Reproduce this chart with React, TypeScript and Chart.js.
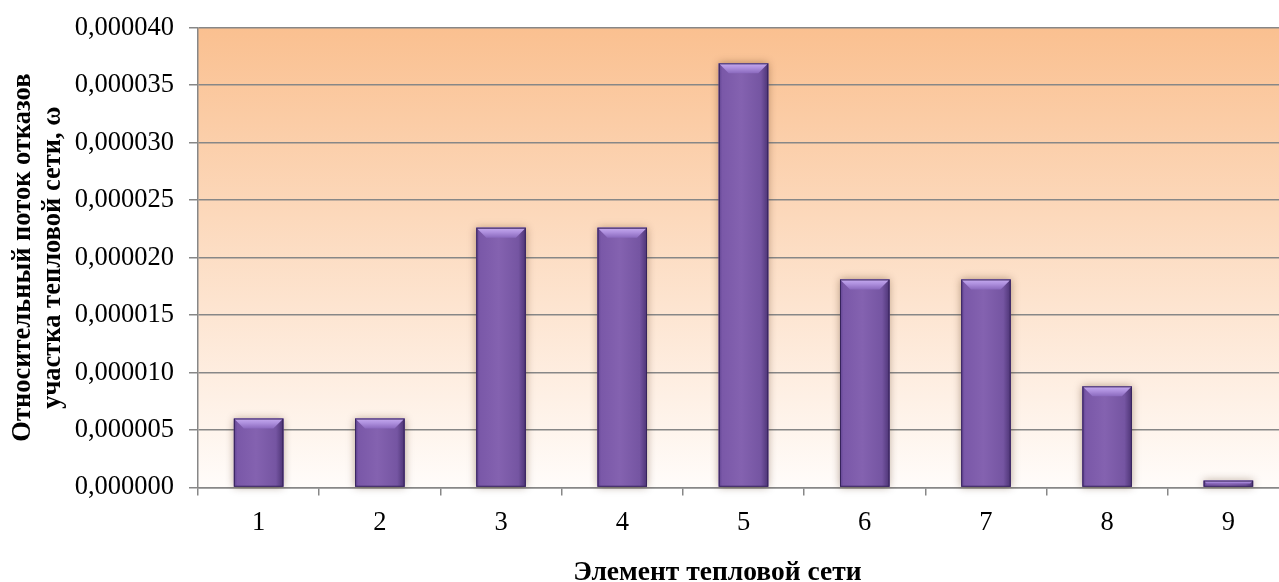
import React, { useEffect, useRef } from 'react';
import { Chart, registerables } from 'chart.js';

Chart.register(...registerables);

// ---- data ----
const categories: string[] = ['1', '2', '3', '4', '5', '6', '7', '8', '9'];
const failureFlow: number[] = [
  0.0000060, 0.0000060, 0.0000226, 0.0000226, 0.0000369, 0.0000181, 0.0000181, 0.0000088, 0.0000006,
];
const yMin = 0;
const yMax = 0.00004;
const yStep = 0.000005;
const yAxisTitle: string[] = ['Относительный поток отказов', 'участка тепловой сети, ω'];
const xAxisTitle = 'Элемент тепловой сети';

const FONT = '"Liberation Serif", "Times New Roman", serif';
const GRID = '#878787';

const bgPlugin = {
  id: 'plotBackground',
  beforeDraw(chart: any) {
    const { ctx, chartArea } = chart;
    ctx.save();
    ctx.fillStyle = '#ffffff';
    ctx.fillRect(0, 0, chart.width, chart.height);
    const { left, top, right, bottom } = chartArea;
    const g = ctx.createLinearGradient(0, top, 0, bottom);
    g.addColorStop(0, '#FAC090');
    g.addColorStop(1, '#FFFCFA');
    ctx.fillStyle = g;
    ctx.fillRect(left, top, right - left, bottom - top);
    ctx.restore();
  },
};

function barRect(bar: any) {
  const p = bar.getProps(['x', 'y', 'base', 'width'], true);
  const x0 = p.x - p.width / 2;
  const x1 = p.x + p.width / 2;
  const y0 = Math.min(p.y, p.base);
  const y1 = Math.max(p.y, p.base);
  return { x0, x1, y0, y1 };
}

const bevelPlugin = {
  id: 'bevelBars',
  beforeDatasetsDraw(chart: any) {
    const { ctx } = chart;
    const meta = chart.getDatasetMeta(0);
    ctx.save();
    meta.data.forEach((bar: any) => {
      const { x0, x1, y0, y1 } = barRect(bar);
      ctx.shadowColor = 'rgba(70,35,0,0.4)';
      ctx.shadowBlur = 8;
      ctx.shadowOffsetX = 0;
      ctx.shadowOffsetY = 0;
      ctx.fillStyle = '#7F5CAB';
      ctx.fillRect(x0, y0, x1 - x0, y1 - y0);
    });
    ctx.restore();
  },
  afterDatasetsDraw(chart: any) {
    const { ctx } = chart;
    const meta = chart.getDatasetMeta(0);
    ctx.save();
    meta.data.forEach((bar: any) => {
      const { x0, x1, y0, y1 } = barRect(bar);
      const w = x1 - x0;
      const h = y1 - y0;
      // body with horizontal shading
      const gb = ctx.createLinearGradient(x0, 0, x1, 0);
      gb.addColorStop(0, '#5F4391');
      gb.addColorStop(0.07, '#7A58A8');
      gb.addColorStop(0.45, '#8462B0');
      gb.addColorStop(0.85, '#7555A2');
      gb.addColorStop(1, '#4D3475');
      ctx.fillStyle = gb;
      ctx.fillRect(x0, y0, w, h);
      // top bevel
      const b = Math.min(10, h / 2, w / 2);
      const gt = ctx.createLinearGradient(0, y0, 0, y0 + b);
      gt.addColorStop(0, '#C6ABF0');
      gt.addColorStop(0.45, '#AE90DE');
      gt.addColorStop(1, '#8A69BD');
      ctx.fillStyle = gt;
      ctx.beginPath();
      ctx.moveTo(x0, y0);
      ctx.lineTo(x1, y0);
      ctx.lineTo(x1 - b, y0 + b);
      ctx.lineTo(x0 + b, y0 + b);
      ctx.closePath();
      ctx.fill();
      // outline
      ctx.strokeStyle = '#37245C';
      ctx.lineWidth = 1;
      ctx.strokeRect(x0 + 0.5, y0 + 0.5, w - 1, h - 1);
    });
    ctx.restore();
  },
};

const xTitlePlugin = {
  id: 'xTitle',
  afterDraw(chart: any) {
    const { ctx, chartArea } = chart;
    ctx.save();
    ctx.font = `bold 27.5px ${FONT}`;
    ctx.fillStyle = '#000';
    ctx.textAlign = 'center';
    ctx.textBaseline = 'alphabetic';
    const cx = chartArea.left + (chartArea.right - chartArea.left) * 0.476;
    ctx.fillText(xAxisTitle, cx, chart.height - 2);
    ctx.restore();
  },
};

export default function App() {
  const ref = useRef<HTMLCanvasElement | null>(null);

  useEffect(() => {
    if (!ref.current) return;
    const chart = new Chart(ref.current, {
      type: 'bar',
      data: {
        labels: categories,
        datasets: [
          {
            data: failureFlow,
            backgroundColor: '#7F5CAB',
            borderColor: '#37245C',
            borderWidth: 0,
            categoryPercentage: 1,
            barPercentage: 0.408,
          },
        ],
      },
      options: {
        responsive: false,
        animation: false,
        devicePixelRatio: 1,
        layout: { padding: { top: 27.7, right: 11, bottom: 0, left: 0 } },
        plugins: {
          legend: { display: false },
          tooltip: { enabled: false },
        },
        scales: {
          x: {
            offset: true,
            grid: {
              drawOnChartArea: false,
              drawTicks: true,
              tickLength: 8,
              color: GRID,
              lineWidth: 1.5,
            },
            border: { display: true, color: GRID, width: 1.5 },
            ticks: {
              color: '#000',
              padding: 12,
              font: { family: FONT, size: 26.5 },
              maxRotation: 0,
            },
            afterFit(scale: any) {
              scale.height = 94.5;
            },
          },
          y: {
            min: yMin,
            max: yMax,
            grid: {
              color: GRID,
              lineWidth: 1.5,
              drawTicks: true,
              tickLength: 9,
            },
            border: { display: true, color: GRID, width: 1.5 },
            ticks: {
              stepSize: yStep,
              color: '#000',
              padding: 15,
              font: { family: FONT, size: 26.5 },
              callback: (v: any) => Number(v).toFixed(6).replace('.', ','),
            },
            title: {
              display: true,
              text: yAxisTitle,
              color: '#000',
              font: { family: FONT, size: 26.5, weight: 'bold', lineHeight: 1.13 },
              padding: { top: 8, bottom: 0 },
            },
            afterFit(scale: any) {
              scale.width = 198;
              scale.paddingTop = 0;
            },
          },
        },
      },
      plugins: [bgPlugin, bevelPlugin, xTitlePlugin],
    } as any);
    return () => chart.destroy();
  }, []);

  return (
    <div
      style={{
        position: 'absolute',
        left: 0,
        top: 0,
        width: 1279,
        height: 582,
        overflow: 'hidden',
        background: '#fff',
      }}
    >
      <canvas ref={ref} width={1300} height={582} style={{ width: 1300, height: 582, display: 'block' }} />
    </div>
  );
}
